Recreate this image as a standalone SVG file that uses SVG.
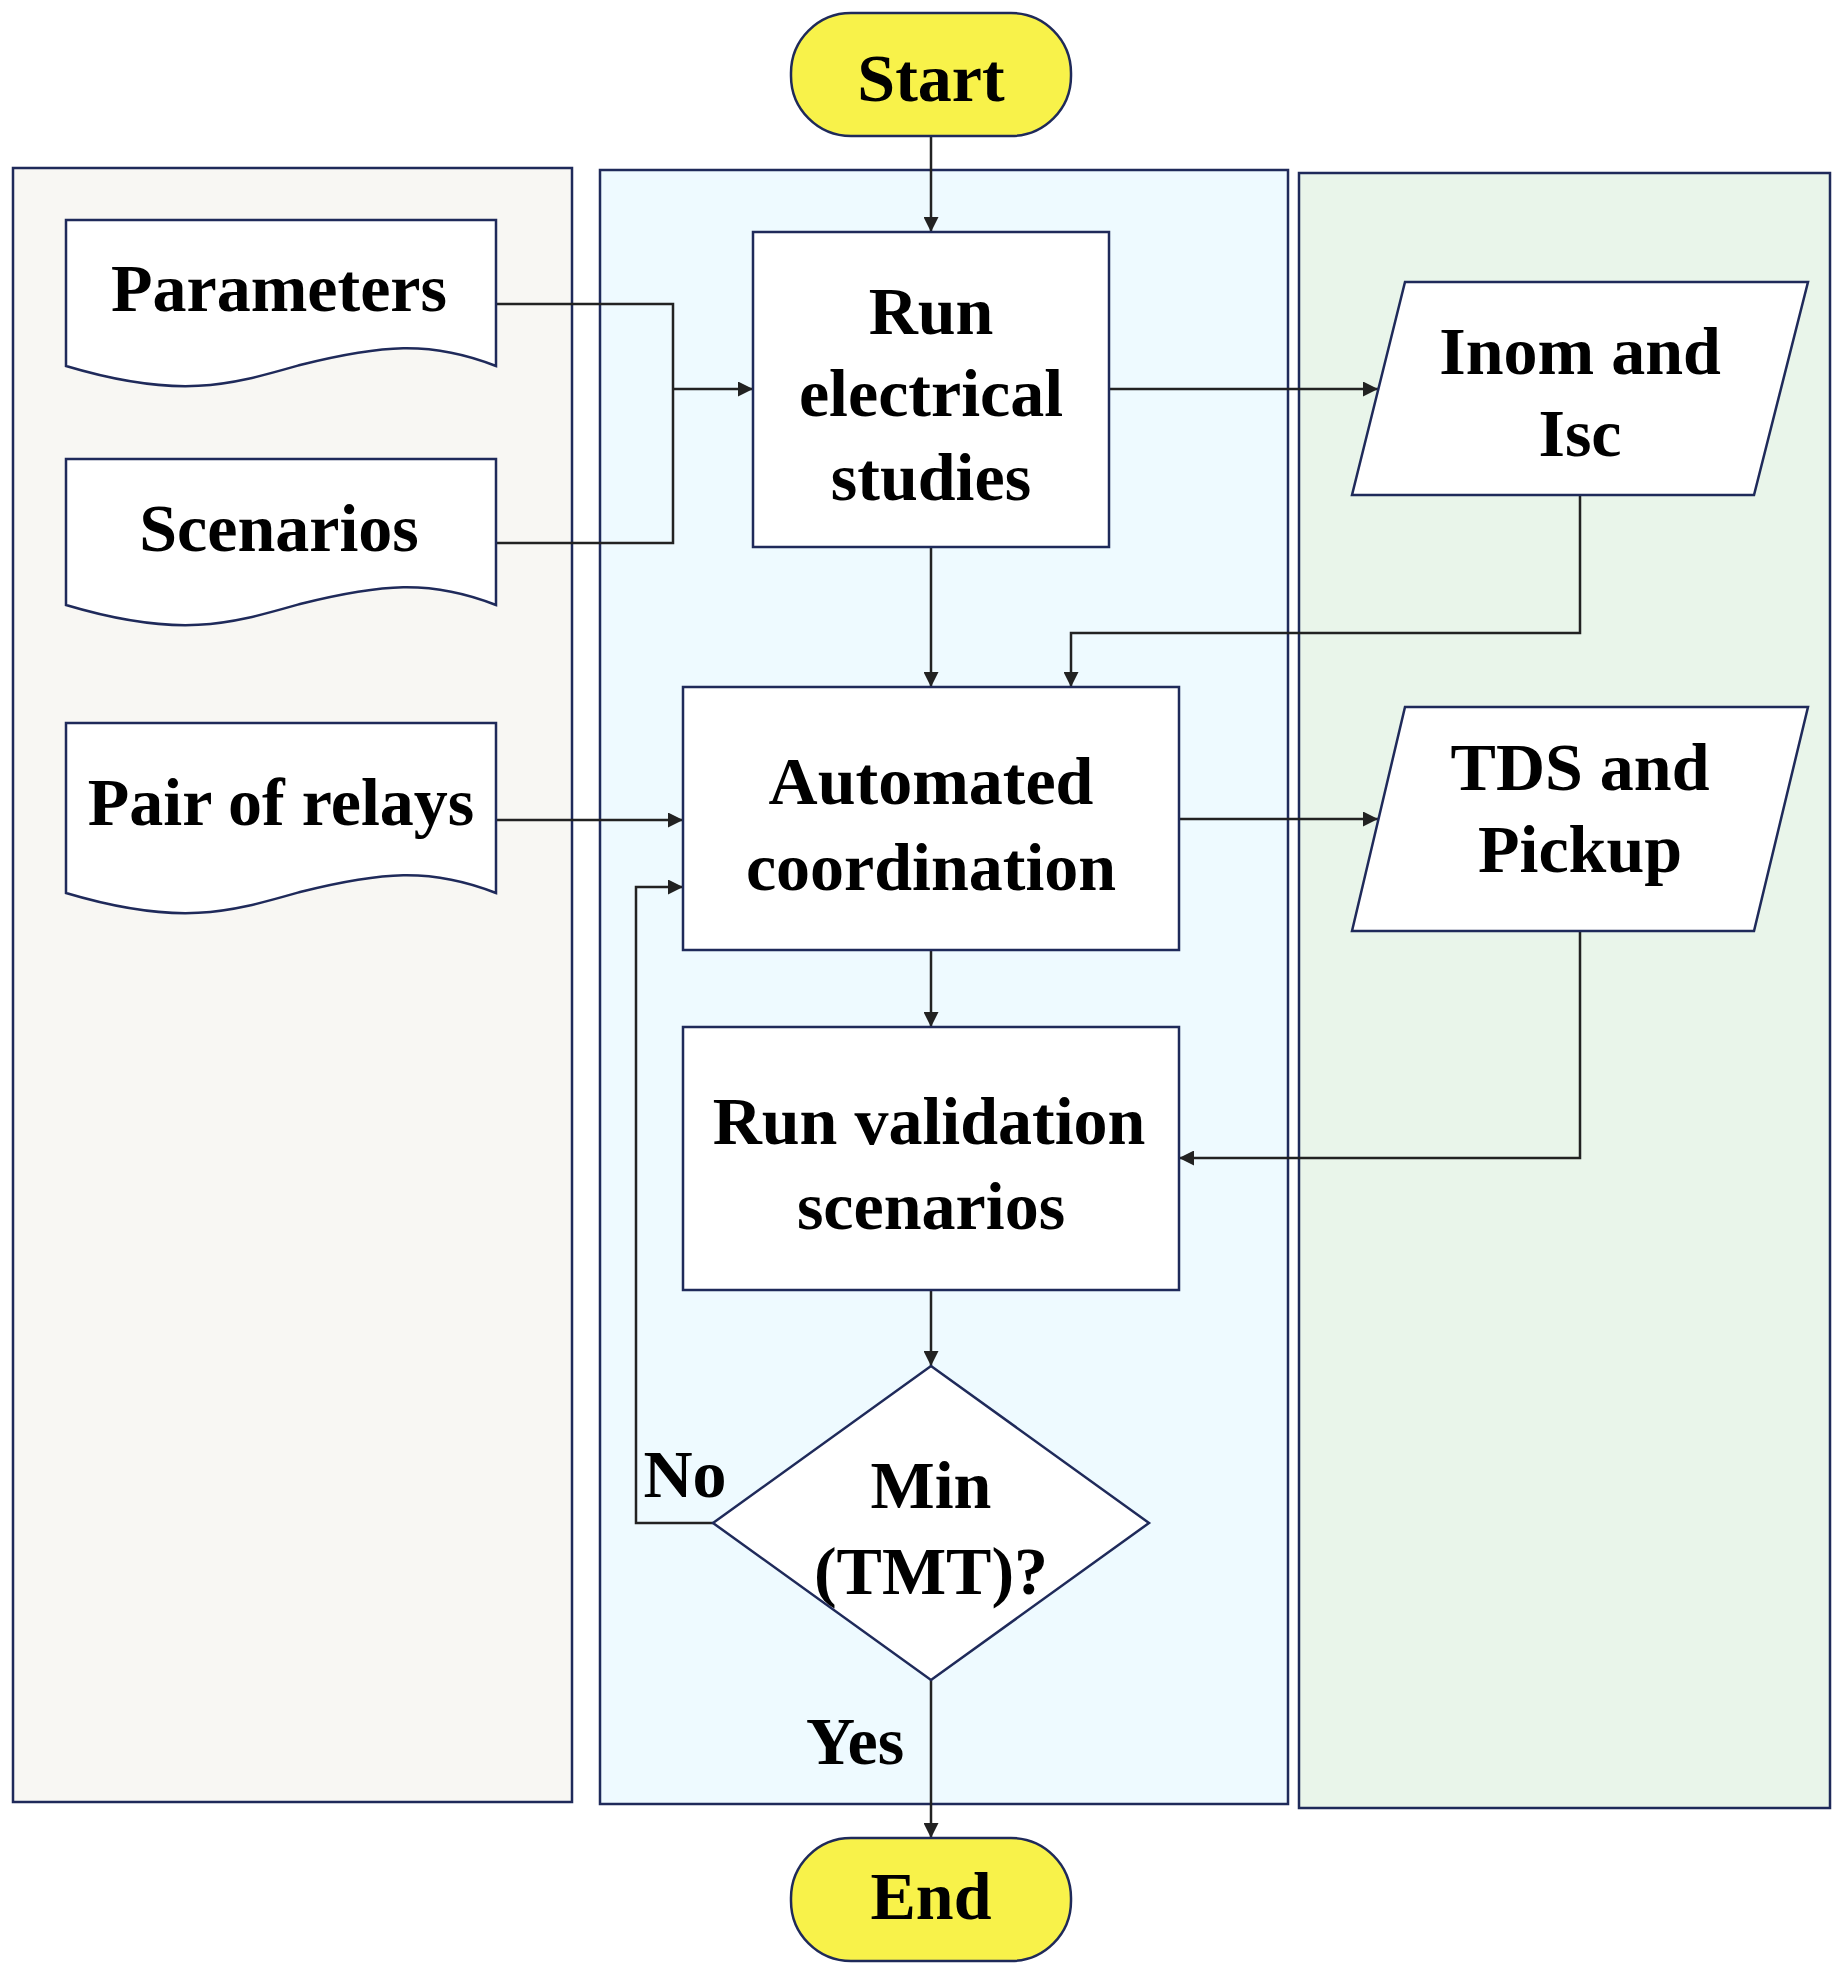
<svg xmlns="http://www.w3.org/2000/svg" width="1845" height="1979" viewBox="0 0 1845 1979">
<defs>
<style>
text{font-family:"Liberation Serif","Times New Roman",serif;font-weight:bold;font-size:68px;fill:#000;text-anchor:middle}
.box{fill:#fff;stroke:#1f2a5a;stroke-width:2.5}
.term{fill:#f8f24a;stroke:#1f2a5a;stroke-width:2.5}
.lane{stroke:#1f2a5a;stroke-width:2.5}
.c{fill:none;stroke:#222;stroke-width:2.5}
</style>
<marker id="a" viewBox="0 0 10 10" refX="10" refY="5" markerWidth="6" markerHeight="6" orient="auto"><path d="M0,0L10,5L0,10z" fill="#222"/></marker>
</defs>
<rect class="lane" x="13" y="168" width="559" height="1634" fill="#f8f7f3"/>
<rect class="lane" x="600" y="170" width="688" height="1634" fill="#eefaff"/>
<rect class="lane" x="1299" y="173" width="531" height="1635" fill="#e9f5ea"/>
<g id="connectors">
<path class="c" d="M931,136V232" marker-end="url(#a)"/>
<path class="c" d="M496,304H673V543H496"/>
<path class="c" d="M673,389H753" marker-end="url(#a)"/>
<path class="c" d="M1109,389H1378" marker-end="url(#a)"/>
<path class="c" d="M931,547V687" marker-end="url(#a)"/>
<path class="c" d="M1580,495V633H1071V687" marker-end="url(#a)"/>
<path class="c" d="M496,820H683" marker-end="url(#a)"/>
<path class="c" d="M1179,819H1378" marker-end="url(#a)"/>
<path class="c" d="M1580,931V1158H1179" marker-end="url(#a)"/>
<path class="c" d="M931,950V1027" marker-end="url(#a)"/>
<path class="c" d="M931,1290V1366" marker-end="url(#a)"/>
<path class="c" d="M713,1523H636V887H683" marker-end="url(#a)"/>
<path class="c" d="M931,1680V1838" marker-end="url(#a)"/>
<text x="685" y="1497">No</text>
<text x="855" y="1764">Yes</text>
</g>
<g id="start"><rect class="term" x="791" y="13" width="280" height="123" rx="60"/><text x="931" y="101">Start</text></g>
<g id="parameters"><path class="box" d="M66,220H496V366C430,340 380,345 300,365C230,385 180,400 66,366Z"/><text x="279" y="311">Parameters</text></g>
<g id="scenarios"><path class="box" d="M66,459H496V605C430,579 380,584 300,604C230,624 180,639 66,605Z"/><text x="279" y="551">Scenarios</text></g>
<g id="pair"><path class="box" d="M66,723H496V893C430,867 380,872 300,892C230,912 180,927 66,893Z"/><text x="281" y="825">Pair of relays</text></g>
<g id="run-electrical"><rect class="box" x="753" y="232" width="356" height="315"/><text x="931" y="334">Run</text><text x="931" y="416">electrical</text><text x="931" y="500">studies</text></g>
<g id="inom"><path class="box" d="M1405,282H1808L1754,495H1352Z"/><text x="1580" y="374">Inom and</text><text x="1580" y="456">Isc</text></g>
<g id="automated"><rect class="box" x="683" y="687" width="496" height="263"/><text x="931" y="804">Automated</text><text x="931" y="890">coordination</text></g>
<g id="tds"><path class="box" d="M1405,707H1808L1754,931H1352Z"/><text x="1580" y="790">TDS and</text><text x="1580" y="872">Pickup</text></g>
<g id="validation"><rect class="box" x="683" y="1027" width="496" height="263"/><text x="929" y="1144">Run validation</text><text x="931" y="1229">scenarios</text></g>
<g id="decision"><path class="box" d="M931,1366L1149,1523L931,1680L713,1523Z"/><text x="931" y="1508">Min</text><text x="931" y="1594">(TMT)?</text></g>
<g id="end"><rect class="term" x="791" y="1838" width="280" height="123" rx="60"/><text x="931" y="1919">End</text></g>
</svg>
